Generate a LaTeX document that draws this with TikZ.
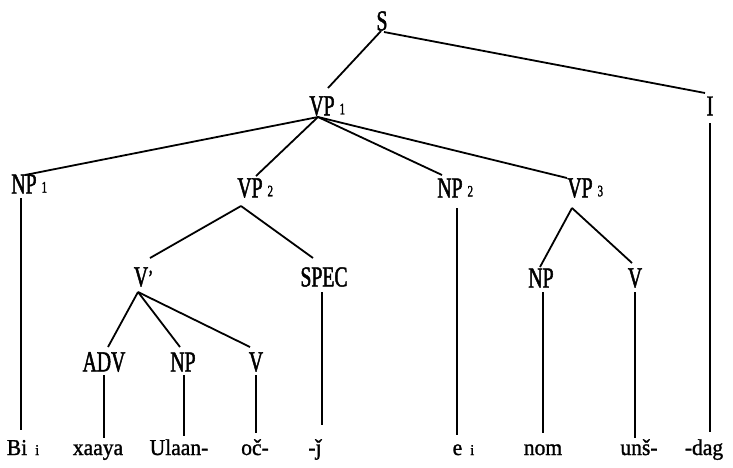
\documentclass[tikz,border=0pt]{standalone}
\usepackage{fontspec}
\setmainfont{Liberation Serif}
\newfontfamily\labfont[FakeStretch=0.68,FakeBold=1.6]{Liberation Serif}
\newfontfamily\wordfont[FakeStretch=0.95,FakeBold=1.2]{Liberation Serif}
\newcommand\labsub[1]{\rlap{\kern5pt\raisebox{1pt}{\fontsize{16}{16}\selectfont #1}}}
\newcommand\wordsub[1]{\rlap{\kern8pt{\fontsize{15}{15}\selectfont #1}}}
\begin{document}
\begin{tikzpicture}[x=1pt,y=-1pt,
  lab/.style={inner sep=0pt, font=\labfont\fontsize{29}{29}\selectfont},
  word/.style={inner sep=0pt, anchor=base, font=\wordfont\fontsize{22.7}{23}\selectfont},
  edge/.style={line width=1.8pt}]
\useasboundingbox (0,0) rectangle (733,467);
% labels
\node[lab] (s)    at (382,21)  {S};
\node[lab] (vp1)  at (322,106) {VP\labsub{1}};
\node[lab] (i)    at (710,106) {I};
\node[lab] (np1)  at (24,184)  {NP\labsub{1}};
\node[lab] (vp2)  at (250,188) {VP\labsub{2}};
\node[lab] (np2)  at (450,188) {NP\labsub{2}};
\node[lab] (vp3)  at (580,188) {VP\labsub{3}};
\node[lab] (vbar) at (141,277) {V\rlap{\raisebox{1pt}{\fontsize{22}{22}\selectfont ’}}};
\node[lab] (spec) at (324,277) {SPEC};
\node[lab] (npb)  at (541,278) {NP};
\node[lab] (vb)   at (635,278) {V};
\node[lab] (adv)  at (104,362) {ADV};
\node[lab] (npa)  at (183,362) {NP};
\node[lab] (va)   at (256,362) {V};
% words
\node[word] (bi)    at (17,455)    {Bi\wordsub{i}};
\node[word] (xaaya) at (98,455)    {xaaya};
\node[word] (ulaan) at (179,455)   {Ulaan-};
\node[word] (oc)    at (255,455)   {oč-};
\node[word] (jj)    at (315,455)   {-ǰ};
\node[word] (ei)    at (457.5,455) {e\wordsub{i}};
\node[word] (nom)   at (543,455)   {nom};
\node[word] (uns)   at (639,455)   {unš-};
\node[word] (dag)   at (704,455)   {-dag};
% tree edges
\draw[edge] ([xshift=-1pt,yshift=-10pt]s.center) -- ([xshift=6pt,yshift=18pt]vp1.center);
\draw[edge] ([xshift=2pt,yshift=-11pt]s.center) -- ([xshift=-5pt,yshift=13pt]i.center);
\draw[edge] ([xshift=-4pt,yshift=-11pt]vp1.center) -- ([xshift=1pt,yshift=9pt]np1.center);
\draw[edge] ([xshift=-4pt,yshift=-11pt]vp1.center) -- ([xshift=6pt,yshift=12pt]vp2.center);
\draw[edge] ([xshift=-4pt,yshift=-11pt]vp1.center) -- ([xshift=-8pt,yshift=13pt]np2.center);
\draw[edge] ([xshift=-4pt,yshift=-11pt]vp1.center) -- ([xshift=-13pt,yshift=10pt]vp3.center);
\draw[edge] ([xshift=-9pt,yshift=-18pt]vp2.center) -- ([xshift=9pt,yshift=19pt]vbar.center);
\draw[edge] ([xshift=-9pt,yshift=-18pt]vp2.center) -- ([xshift=-11pt,yshift=19pt]spec.center);
\draw[edge] ([xshift=-3pt,yshift=-15pt]vbar.center) -- ([xshift=4pt,yshift=15pt]adv.center);
\draw[edge] ([xshift=-3pt,yshift=-15pt]vbar.center) -- ([xshift=-3pt,yshift=15pt]npa.center);
\draw[edge] ([xshift=-3pt,yshift=-15pt]vbar.center) -- ([xshift=-6pt,yshift=15pt]va.center);
\draw[edge] ([xshift=-8pt,yshift=-20pt]vp3.center) -- ([xshift=-1pt,yshift=11pt]npb.center);
\draw[edge] ([xshift=-8pt,yshift=-20pt]vp3.center) -- ([xshift=-3pt,yshift=15pt]vb.center);
% vertical edges to words
\draw[edge] ([xshift=-3pt,yshift=-14pt]np1.center) -- ([xshift=4pt,yshift=25pt]bi.base);
\draw[edge] ([yshift=-13pt]adv.center) -- ([xshift=6pt,yshift=17pt]xaaya.base);
\draw[edge] ([xshift=1pt,yshift=-13pt]npa.center) -- ([xshift=5pt,yshift=19pt]ulaan.base);
\draw[edge] ([yshift=-13pt]va.center) -- ([xshift=1pt,yshift=22pt]oc.base);
\draw[edge] ([xshift=-2pt,yshift=-15pt]spec.center) -- ([xshift=7pt,yshift=30pt]jj.base);
\draw[edge] ([xshift=7pt,yshift=-20pt]np2.center) -- ([xshift=-0.5pt,yshift=20pt]ei.base);
\draw[edge] ([xshift=2pt,yshift=-14pt]npb.center) -- ([yshift=22pt]nom.base);
\draw[edge] ([yshift=-14pt]vb.center) -- ([xshift=-4pt,yshift=17pt]uns.base);
\draw[edge] ([yshift=-17pt]i.center) -- ([xshift=6pt,yshift=23pt]dag.base);
\end{tikzpicture}
\end{document}
